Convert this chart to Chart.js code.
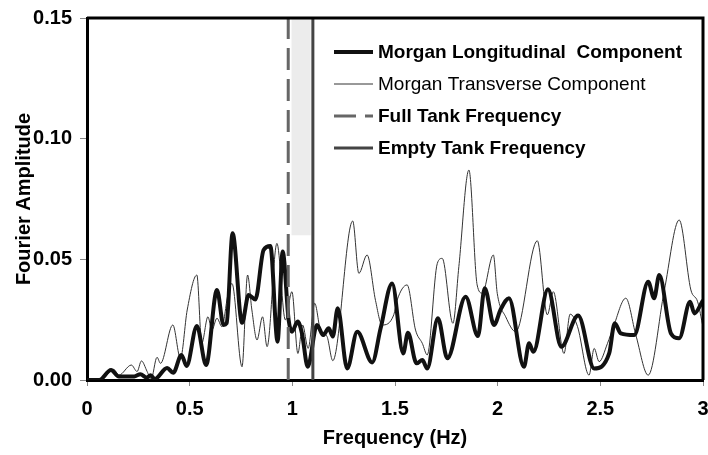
<!DOCTYPE html>
<html>
<head>
<meta charset="utf-8">
<script src="https://cdn.jsdelivr.net/npm/chart.js@4.4.1/dist/chart.umd.min.js"></script>
<style>
  body { margin: 0; background: #fff; }
  #wrap { width: 708px; height: 455px; }
</style>
</head>
<body>
<div id="wrap"><canvas id="chart" width="708" height="455"></canvas></div>
<script>
// values (Hz, amplitude)
const longFreq = [0, 0.06, 0.117, 0.155, 0.23, 0.26, 0.29, 0.31, 0.33, 0.39, 0.42, 0.46, 0.485, 0.535, 0.58, 0.633, 0.665, 0.68, 0.709, 0.755, 0.787, 0.82, 0.86, 0.893, 0.928, 0.953, 0.982, 0.998, 1.026, 1.047, 1.075, 1.12, 1.15, 1.177, 1.197, 1.221, 1.267, 1.316, 1.389, 1.43, 1.486, 1.54, 1.563, 1.605, 1.633, 1.657, 1.709, 1.755, 1.844, 1.904, 1.937, 1.982, 2.015, 2.055, 2.128, 2.153, 2.174, 2.245, 2.31, 2.392, 2.47, 2.543, 2.57, 2.6, 2.665, 2.733, 2.762, 2.787, 2.844, 2.884, 2.937, 2.958, 3.0];
const longAmp = [0, 0, 0.0041, 0.0014, 0.0015, 0.0024, 0.001, 0.002, 0.0004, 0.005, 0.003, 0.0104, 0.0058, 0.0224, 0.0062, 0.0373, 0.0228, 0.0235, 0.0608, 0.0237, 0.0352, 0.0334, 0.0539, 0.0555, 0.0159, 0.0532, 0.0249, 0.020, 0.0242, 0.0193, 0.0055, 0.0228, 0.0186, 0.0214, 0.018, 0.0297, 0.0048, 0.020, 0.0073, 0.0214, 0.040, 0.011, 0.0196, 0.0069, 0.0083, 0.0048, 0.0256, 0.009, 0.0345, 0.0182, 0.038, 0.0228, 0.0293, 0.0339, 0.0055, 0.0152, 0.0117, 0.0376, 0.0138, 0.0267, 0.0048, 0.011, 0.0235, 0.0193, 0.0186, 0.0407, 0.0339, 0.0435, 0.0193, 0.0173, 0.0324, 0.0276, 0.033];

const transFreq = [0, 0.065, 0.13, 0.155, 0.216, 0.244, 0.265, 0.293, 0.312, 0.341, 0.358, 0.418, 0.455, 0.488, 0.535, 0.559, 0.589, 0.608, 0.633, 0.657, 0.686, 0.706, 0.755, 0.782, 0.803, 0.828, 0.855, 0.877, 0.925, 0.966, 0.998, 1.027, 1.05, 1.077, 1.109, 1.137, 1.169, 1.197, 1.294, 1.324, 1.364, 1.405, 1.437, 1.494, 1.51, 1.559, 1.6, 1.633, 1.657, 1.706, 1.73, 1.782, 1.811, 1.86, 1.9, 1.925, 1.979, 1.998, 2.039, 2.088, 2.193, 2.242, 2.271, 2.323, 2.353, 2.389, 2.445, 2.47, 2.494, 2.535, 2.564, 2.624, 2.673, 2.733, 2.812, 2.884, 2.941, 2.974, 3.0];
const transAmp = [0, 0, 0.0044, 0.002, 0.0062, 0.0035, 0.0079, 0.0035, 0.0003, 0.0094, 0.0069, 0.0228, 0.009, 0.029, 0.0435, 0.0152, 0.0262, 0.0207, 0.0256, 0.0221, 0.0352, 0.040, 0.0055, 0.0435, 0.029, 0.0166, 0.0262, 0.0138, 0.0566, 0.0249, 0.0366, 0.011, 0.0228, 0.0131, 0.0318, 0.0207, 0.018, 0.008, 0.0659, 0.0442, 0.0518, 0.033, 0.0228, 0.027, 0.033, 0.0394, 0.0207, 0.0152, 0.0104, 0.0483, 0.0504, 0.0235, 0.047, 0.087, 0.0394, 0.036, 0.0518, 0.0359, 0.0262, 0.020, 0.0577, 0.027, 0.0366, 0.011, 0.0273, 0.0221, 0.002, 0.0131, 0.0076, 0.0152, 0.0221, 0.0339, 0.0186, 0.002, 0.0373, 0.0663, 0.0373, 0.0324, 0.022];

const fullTankFreq = 0.98;
const emptyTankFreq = 1.1;
const bandFreq = [0.995, 1.09];
const bandAmp = [0.06, 0.15];

const xTicks = [0, 0.5, 1, 1.5, 2, 2.5, 3];
const yTicks = [0, 0.05, 0.10, 0.15];
const seriesLabels = ['Morgan Longitudinal  Component', 'Morgan Transverse Component', 'Full Tank Frequency', 'Empty Tank Frequency'];

const FONT = 'Liberation Sans, Arial, sans-serif';

function toPoints(xs, ys) {
    return xs.map((x, i) => ({ x: x, y: ys[i] }));
}

// frame on top/right side and legend inside the plot
const framePlugin = {
    id: 'frame',
    afterDraw(chart) {
        const { ctx, chartArea: a } = chart;
        ctx.save();
        ctx.strokeStyle = '#000';
        ctx.lineWidth = 3;
        ctx.beginPath();
        ctx.moveTo(a.left, a.top);
        ctx.lineTo(a.right, a.top);
        ctx.lineTo(a.right, a.bottom);
        ctx.stroke();

        const items = [
            { ds: chart.data.datasets[2], weight: 'bold' },
            { ds: chart.data.datasets[3], weight: 'normal' },
            { ds: chart.data.datasets[0], weight: 'bold' },
            { ds: chart.data.datasets[1], weight: 'bold' }
        ];
        const x0 = a.left + 247;
        let y = a.top + 34;
        items.forEach(item => {
            ctx.beginPath();
            ctx.strokeStyle = item.ds.borderColor;
            ctx.lineWidth = item.ds.borderWidth;
            ctx.setLineDash(item.ds.borderDash || []);
            ctx.moveTo(x0, y);
            ctx.lineTo(x0 + 39, y);
            ctx.stroke();
            ctx.setLineDash([]);
            ctx.fillStyle = '#000';
            ctx.font = item.weight + ' 19px ' + FONT;
            ctx.textBaseline = 'middle';
            ctx.fillText(item.ds.label, x0 + 44, y + 1);
            y += 32;
        });
        ctx.restore();
    }
};

new Chart(document.getElementById('chart'), {
    type: 'line',
    data: {
        datasets: [{
            label: seriesLabels[2],
            data: [{ x: fullTankFreq, y: 0 }, { x: fullTankFreq, y: 0.15 }],
            borderColor: '#666',
            borderWidth: 3,
            borderDash: [22, 9],
            pointRadius: 0
        }, {
            label: seriesLabels[3],
            data: [{ x: emptyTankFreq, y: 0 }, { x: emptyTankFreq, y: 0.15 }],
            borderColor: '#444',
            borderWidth: 3,
            pointRadius: 0
        }, {
            label: seriesLabels[0],
            data: toPoints(longFreq, longAmp),
            borderColor: '#111',
            borderWidth: 4,
            pointRadius: 0,
            cubicInterpolationMode: 'monotone'
        }, {
            label: seriesLabels[1],
            data: toPoints(transFreq, transAmp),
            borderColor: '#333',
            borderWidth: 1,
            pointRadius: 0,
            cubicInterpolationMode: 'monotone'
        }, {
            label: 'band',
            data: [{ x: bandFreq[0], y: bandAmp[1] }, { x: bandFreq[1], y: bandAmp[1] }],
            borderWidth: 0,
            borderColor: 'rgba(0,0,0,0)',
            backgroundColor: '#ececec',
            pointRadius: 0,
            fill: { value: bandAmp[0] }
        }]
    },
    options: {
        responsive: false,
        animation: false,
        layout: { padding: { top: 18, right: 5, left: 0, bottom: 0 } },
        plugins: {
            legend: { display: false },
            tooltip: { enabled: false }
        },
        scales: {
            x: {
                type: 'linear',
                min: 0,
                max: 3,
                afterFit: axis => {
                    axis.height = 75;
                    axis.paddingLeft = 0;
                    axis.paddingRight = 0;
                },
                afterBuildTicks: axis => { axis.ticks = xTicks.map(v => ({ value: v })); },
                border: { color: '#000', width: 3 },
                grid: { drawOnChartArea: false, drawTicks: true, tickLength: 6, color: '#888' },
                ticks: {
                    color: '#000',
                    padding: 11,
                    maxRotation: 0,
                    font: { family: FONT, size: 20, weight: 'bold' },
                    callback: v => String(v)
                },
                title: {
                    display: true,
                    text: 'Frequency (Hz)',
                    color: '#000',
                    padding: { top: 0, bottom: 5 },
                    font: { family: FONT, size: 20, weight: 'bold' }
                }
            },
            y: {
                min: 0,
                max: 0.15,
                afterFit: axis => {
                    axis.width = 87;
                    axis.paddingTop = 0;
                    axis.paddingBottom = 0;
                },
                afterBuildTicks: axis => { axis.ticks = yTicks.map(v => ({ value: v })); },
                border: { color: '#000', width: 3 },
                grid: { drawOnChartArea: false, drawTicks: true, tickLength: 7, color: '#888' },
                ticks: {
                    color: '#000',
                    padding: 8,
                    font: { family: FONT, size: 20, weight: 'bold' },
                    callback: v => v.toFixed(2)
                },
                title: {
                    display: true,
                    text: 'Fourier Amplitude',
                    color: '#000',
                    padding: { top: 12, bottom: 0 },
                    font: { family: FONT, size: 20, weight: 'bold' }
                }
            }
        }
    },
    plugins: [framePlugin]
});
</script>
</body>
</html>
